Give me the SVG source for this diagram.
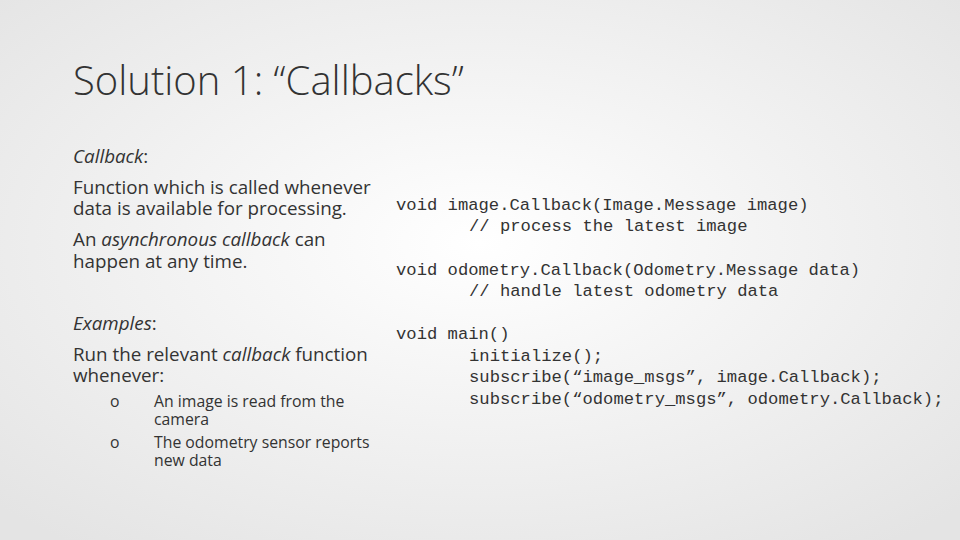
<svg xmlns="http://www.w3.org/2000/svg" width="960" height="540" viewBox="0 0 960 540">
<defs>
<radialGradient id="bg" cx="50%" cy="45%" r="70%">
<stop offset="0" stop-color="#ffffff"/><stop offset="1" stop-color="#e4e4e4"/>
</radialGradient>
<style>
.t{font-family:"Open Sans","Liberation Sans",sans-serif;fill:#333}
.b{font-size:18.8px}
.s{font-size:15.8px}
.c{font-family:"Liberation Mono",monospace;font-size:17.2px;fill:#333;white-space:pre}
</style>
</defs>
<rect width="960" height="540" fill="url(#bg)"/>
<text class="t" x="73" y="95" font-size="40" font-weight="300">Solution 1: “Callbacks”</text>
<g class="t b">
<text x="73" y="163"><tspan font-style="italic">Callback</tspan>:</text>
<text x="73" y="194">Function which is called whenever</text>
<text x="73" y="215">data is available for processing.</text>
<text x="73" y="246">An <tspan font-style="italic">asynchronous callback</tspan> can</text>
<text x="73" y="268">happen at any time.</text>
<text x="73" y="330"><tspan font-style="italic">Examples</tspan>:</text>
<text x="73" y="361">Run the relevant <tspan font-style="italic">callback</tspan> function</text>
<text x="73" y="382">whenever:</text>
</g>
<g class="t s">
<text x="110" y="407">o</text><text x="154" y="407">An image is read from the</text>
<text x="154" y="425">camera</text>
<text x="110" y="448">o</text><text x="154" y="448">The odometry sensor reports</text>
<text x="154" y="466">new data</text>
</g>
<g class="c">
<text x="396" y="210">void image.Callback(Image.Message image)</text>
<text x="469" y="231">// process the latest image</text>
<text x="396" y="275">void odometry.Callback(Odometry.Message data)</text>
<text x="469" y="296">// handle latest odometry data</text>
<text x="396" y="339">void main()</text>
<text x="469" y="361">initialize();</text>
<text x="469" y="382">subscribe(“image_msgs”, image.Callback);</text>
<text x="469" y="404">subscribe(“odometry_msgs”, odometry.Callback);</text>
</g>
</svg>
